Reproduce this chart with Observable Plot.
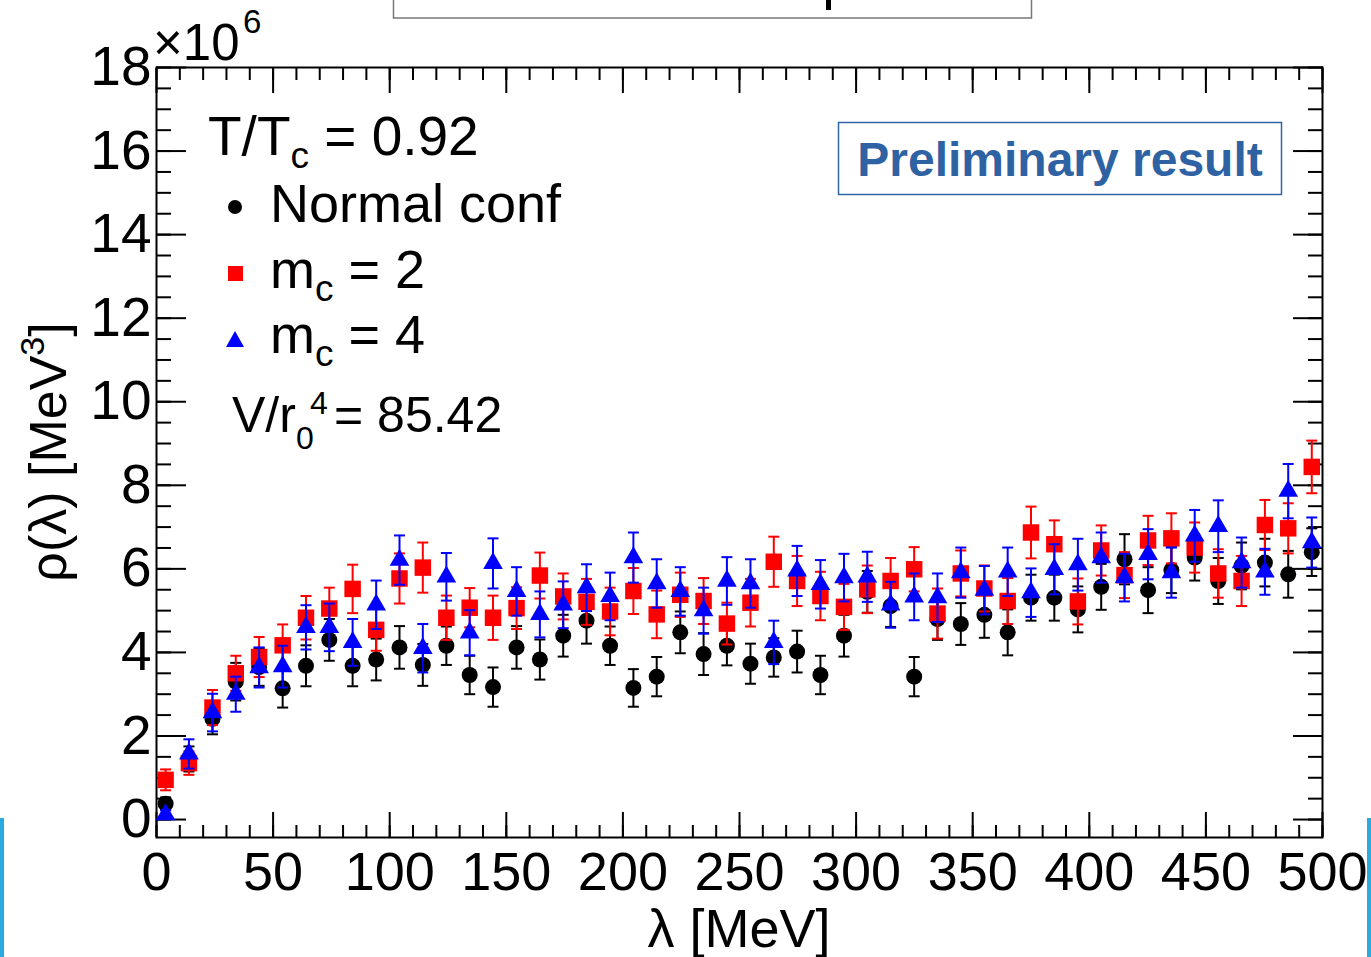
<!DOCTYPE html>
<html><head><meta charset="utf-8">
<script src="https://cdn.jsdelivr.net/npm/d3@7"></script>
<script src="https://cdn.jsdelivr.net/npm/@observablehq/plot@0.6"></script>
<style>
html,body{margin:0;padding:0;background:#fff;}
#chart{position:relative;width:1371px;height:957px;overflow:hidden;}
svg text{font-family:"Liberation Sans",Arial,Helvetica,sans-serif;}
</style></head><body><div id="chart"></div>
<script>
// λ [MeV] bin positions
const lambda = [3.9,13.9,24.0,34.0,44.0,54.1,64.1,74.1,84.1,94.2,104.2,114.2,124.3,134.3,144.3,154.4,164.4,174.4,184.4,194.5,204.5,214.5,224.6,234.6,244.6,254.7,264.7,274.7,284.7,294.8,304.8,314.8,324.9,334.9,344.9,355.0,365.0,375.0,385.0,395.1,405.1,415.1,425.2,435.2,445.2,455.3,465.3,475.3,485.3,495.4];
// ρ(λ) in units of 10^6 MeV^3
const normalConf = [0.38,1.45,2.41,3.30,3.65,3.14,3.68,4.30,3.68,3.83,4.12,3.70,4.16,3.46,3.17,4.12,3.83,4.40,4.76,4.16,3.15,3.42,4.48,3.96,4.16,3.73,3.88,4.02,3.46,4.40,5.45,5.11,3.42,4.80,4.68,4.90,4.48,5.31,5.31,5.03,5.57,6.23,5.49,5.97,6.27,5.71,6.07,6.15,5.87,6.40];
const normalErr = [0.15,0.30,0.37,0.45,0.45,0.46,0.49,0.50,0.49,0.50,0.51,0.50,0.46,0.46,0.47,0.51,0.48,0.50,0.55,0.46,0.45,0.47,0.50,0.50,0.47,0.48,0.46,0.50,0.46,0.50,0.50,0.50,0.47,0.50,0.50,0.55,0.55,0.55,0.55,0.55,0.55,0.60,0.55,0.55,0.55,0.55,0.56,0.57,0.56,0.57];
const mc2 = [0.95,1.35,2.68,3.50,3.89,4.17,4.83,5.05,5.52,4.54,5.77,6.03,4.83,5.07,4.83,5.06,5.84,5.34,5.21,4.98,5.47,4.91,5.38,5.23,4.69,5.19,6.17,5.71,5.35,5.09,5.51,5.71,5.99,4.93,5.89,5.53,5.23,6.87,6.59,5.22,6.44,5.85,6.68,6.73,6.51,5.89,5.71,7.05,6.97,8.44];
const mc2Err = [0.25,0.28,0.42,0.42,0.48,0.50,0.52,0.50,0.58,0.50,0.60,0.60,0.53,0.47,0.53,0.50,0.55,0.55,0.55,0.57,0.55,0.57,0.53,0.55,0.50,0.57,0.60,0.60,0.58,0.55,0.57,0.55,0.53,0.60,0.55,0.55,0.55,0.62,0.57,0.55,0.60,0.55,0.59,0.60,0.60,0.58,0.60,0.60,0.60,0.63];
const mc4 = [0.12,1.57,2.56,3.00,3.64,3.66,4.60,4.60,4.24,5.14,6.21,4.10,5.81,4.47,6.13,5.46,4.91,5.14,5.55,5.34,6.27,5.65,5.46,5.00,5.71,5.65,4.24,5.95,5.63,5.79,5.81,5.14,5.33,5.31,5.91,5.49,5.93,5.43,5.99,6.10,6.27,5.79,6.35,5.91,6.79,7.02,6.15,5.93,7.86,6.63];
const mc4Err = [0.10,0.35,0.45,0.42,0.48,0.50,0.53,0.57,0.56,0.58,0.59,0.58,0.57,0.54,0.60,0.58,0.55,0.56,0.56,0.57,0.60,0.58,0.58,0.55,0.57,0.58,0.52,0.60,0.58,0.57,0.60,0.55,0.56,0.58,0.60,0.58,0.58,0.58,0.60,0.62,0.60,0.57,0.60,0.60,0.62,0.62,0.60,0.55,0.65,0.60];

const xTicks = [0,50,100,150,200,250,300,350,400,450,500];
const yTicks = [0,2,4,6,8,10,12,14,16,18];
const xMinor = d3.range(0, 501, 10);
const yMinor = d3.range(0, 18.01, 0.5);

function rows(vals, errs) {
  return lambda.map((x, i) => ({x, y: vals[i], lo: vals[i] - errs[i], hi: vals[i] + errs[i]}));
}
const dBlack = rows(normalConf, normalErr);
const dRed = rows(mc2, mc2Err);
const dBlue = rows(mc4, mc4Err);

const capSymbol = {draw(ctx) { ctx.moveTo(-5.5, 0); ctx.lineTo(5.5, 0); }};

function seriesMarks(data, color, symbol, r) {
  return [
    Plot.ruleX(data, {x: "x", y1: "lo", y2: "hi", stroke: color, strokeWidth: 2}),
    Plot.dot(data, {x: "x", y: "lo", symbol: capSymbol, stroke: color, strokeWidth: 2, fill: "none"}),
    Plot.dot(data, {x: "x", y: "hi", symbol: capSymbol, stroke: color, strokeWidth: 2, fill: "none"}),
    Plot.dot(data, {x: "x", y: "y", symbol, r, fill: color, stroke: "none"})
  ];
}

const tickAxis = (fn, anchor, ticks, size) =>
  fn({anchor, ticks, tickSize: size, strokeWidth: 2, fill: "none", label: null});

const svg = Plot.plot({
  width: 1371, height: 957,
  marginLeft: 156, marginRight: 49, marginTop: 67, marginBottom: 120,
  style: {fontFamily: "Liberation Sans, Arial, sans-serif", background: "white", overflow: "visible", color: "black"},
  x: {domain: [0, 500]},
  y: {domain: [-0.43, 18]},
  marks: [
    Plot.axisX({anchor: "bottom", ticks: xTicks, tickSize: 0, tickPadding: 14, fontSize: 54, label: null, tickFormat: d => String(d)}),
    Plot.axisY({anchor: "left", ticks: yTicks, tickSize: 0, tickPadding: 5, fontSize: 55, label: null, tickFormat: d => String(d)}),
    tickAxis(Plot.axisX, "bottom", xTicks, -25),
    tickAxis(Plot.axisX, "bottom", xMinor, -12),
    tickAxis(Plot.axisX, "top", xTicks, -25),
    tickAxis(Plot.axisX, "top", xMinor, -12),
    tickAxis(Plot.axisY, "left", yTicks, -30),
    tickAxis(Plot.axisY, "left", yMinor, -15),
    tickAxis(Plot.axisY, "right", yTicks, -30),
    tickAxis(Plot.axisY, "right", yMinor, -15),
    Plot.frame({stroke: "black", strokeWidth: 2}),
    ...seriesMarks(dBlack, "black", "circle", 8),
    ...seriesMarks(dRed, "#ff0000", "square", 9.3),
    ...seriesMarks(dBlue, "#0000ff", "triangle", 7.3)
  ]
});
document.getElementById("chart").appendChild(svg);

// annotations
const s = d3.select(svg);
const g = s.append("g").attr("fill", "black").attr("text-anchor", "start").attr("font-family", "Liberation Sans, Arial, sans-serif");
function txt(x, y, size, str, opts = {}) {
  const t = g.append("text").attr("x", x).attr("y", y).attr("font-size", size).text(str);
  for (const k in opts) t.attr(k, opts[k]);
  return t;
}
// multiplier
txt(153, 60, 51, "\u00d710");
txt(243, 33, 33, "6");
// axis titles
txt(739, 947, 54, "\u03bb [MeV]", {"text-anchor": "middle"});
const yt = g.append("text").attr("transform", "translate(66,452) rotate(-90)").attr("text-anchor", "middle").attr("font-size", 52);
yt.append("tspan").text("\u03c1(\u03bb) [MeV");
yt.append("tspan").attr("font-size", 34).attr("dy", -22).text("3");
yt.append("tspan").attr("dy", 22).text("]");
// legend
const t1 = g.append("text").attr("x", 208).attr("y", 155).attr("font-size", 55);
t1.append("tspan").text("T/T");
t1.append("tspan").attr("font-size", 37).attr("dy", 13).text("c");
t1.append("tspan").attr("dy", -13).text(" = 0.92");
txt(270, 222, 54, "Normal conf");
for (const [yb, lab] of [[288, " = 2"], [353, " = 4"]]) {
  const t = g.append("text").attr("x", 270).attr("y", yb).attr("font-size", 54);
  t.append("tspan").text("m");
  t.append("tspan").attr("font-size", 37).attr("dy", 13).text("c");
  t.append("tspan").attr("dy", -13).text(lab);
}
g.append("circle").attr("cx", 235).attr("cy", 207).attr("r", 7).attr("fill", "black");
g.append("rect").attr("x", 228).attr("y", 266).attr("width", 15).attr("height", 15).attr("fill", "#ff0000");
g.append("path").attr("d", "M235,331 L244,347 L226,347 Z").attr("fill", "#0000ff");
txt(232, 432, 50, "V/r");
txt(296, 449, 32, "0");
txt(310, 414, 32, "4");
txt(334, 432, 50, "= 85.42");
// preliminary box
g.append("rect").attr("x", 838.5).attr("y", 122.5).attr("width", 443).attr("height", 72).attr("fill", "white").attr("stroke", "#2f64a5").attr("stroke-width", 1.5);
txt(1060, 176, 48, "Preliminary result", {"text-anchor": "middle", "font-weight": "bold", fill: "#2f62a3"});
// top box and edge bars
g.append("rect").attr("x", 393.5).attr("y", -5).attr("width", 638).attr("height", 23).attr("fill", "white").attr("stroke", "#777").attr("stroke-width", 1.5);
g.append("rect").attr("x", 826).attr("y", 0).attr("width", 5).attr("height", 10).attr("fill", "black");
g.append("rect").attr("x", 0).attr("y", 818).attr("width", 4).attr("height", 139).attr("fill", "#29abe2");
g.append("rect").attr("x", 1367).attr("y", 818).attr("width", 4).attr("height", 139).attr("fill", "#29abe2");
</script></body></html>
